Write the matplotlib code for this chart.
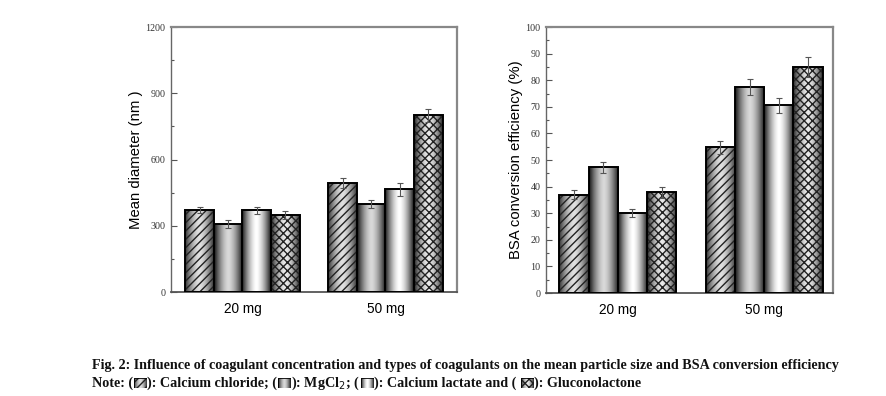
import numpy as np
import matplotlib
matplotlib.use("Agg")
import matplotlib.pyplot as plt
from matplotlib.ticker import MultipleLocator

groups = ["20 mg", "50 mg"]
coagulants = ["Calcium chloride", "MgCl2", "Calcium lactate", "Gluconolactone"]
diam_vals = [[370, 310, 370, 350], [495, 398, 465, 800]]
diam_err = [[14, 18, 16, 18], [22, 18, 28, 28]]
bsa_vals = [[37.0, 47.2, 30.0, 37.8], [54.8, 77.3, 70.6, 84.9]]
bsa_err = [[1.8, 2.2, 1.5, 2.0], [2.4, 3.0, 2.8, 3.8]]
diam_ticks = [0, 300, 600, 900, 1200]
bsa_ticks = list(range(0, 101, 10))

styles = [
    dict(hatch="////", lo=0.2, hi=0.88),
    dict(hatch=None, lo=0.08, hi=0.85),
    dict(hatch=None, lo=0.1, hi=1.0),
    dict(hatch="xxxx", lo=0.15, hi=0.92),
]

def grad_array(lo, hi, n=64):
    x = np.linspace(-1, 1, n)
    prof = 1 - np.abs(x) ** 1.6
    return (lo + (hi - lo) * prof)[None, :]

def draw_bar(ax, x, h, w, st, lw=1.4):
    g = grad_array(st["lo"], st["hi"])
    rect = ax.bar(x, h, w, facecolor="none", edgecolor="none", zorder=2)[0]
    im = ax.imshow(g, cmap="gray", vmin=0, vmax=1, aspect="auto",
                   extent=(x - w / 2, x + w / 2, 0, h), zorder=1,
                   interpolation="bilinear")
    im.set_clip_path(rect)
    if st["hatch"]:
        ax.bar(x, h, w, facecolor="none", edgecolor="#222222", hatch=st["hatch"],
               linewidth=0, zorder=2)
    ax.bar(x, h, w, facecolor="none", edgecolor="black", linewidth=lw, zorder=3)

def panel(ax, vals, errs, ylim, ticks, minor, ylabel, xlim):
    w = 0.2
    for gi in range(len(groups)):
        for ci in range(4):
            x = gi + (ci - 1.5) * w
            draw_bar(ax, x, vals[gi][ci], w, styles[ci])
            ax.errorbar(x, vals[gi][ci], yerr=errs[gi][ci], fmt="none",
                        ecolor="#555555", elinewidth=0.8, capsize=2.5,
                        capthick=0.8, zorder=4)
    ax.set_xlim(*xlim)
    ax.set_ylim(*ylim)
    ax.set_xticks(range(len(groups)))
    ax.set_xticklabels(groups, family="Liberation Sans", fontsize=9.8)
    ax.tick_params(axis="x", length=0, pad=7)
    ax.set_yticks(ticks)
    ax.set_yticklabels([str(t) for t in ticks], family="Liberation Serif",
                       fontsize=7.2, color="#333333")
    ax.yaxis.set_minor_locator(MultipleLocator(minor))
    ax.tick_params(axis="y", which="major", direction="in", length=4,
                   width=0.8, color="#555555", pad=4)
    ax.tick_params(axis="y", which="minor", direction="in", length=2,
                   width=0.8, color="#555555")
    ax.set_ylabel(ylabel, family="Liberation Sans", fontsize=10.7, labelpad=2)
    for s in ["top", "right"]:
        ax.spines[s].set_color("#888888")
        ax.spines[s].set_linewidth(1.6)
    ax.spines["left"].set_color("#666666")
    ax.spines["left"].set_linewidth(1.0)
    ax.spines["bottom"].set_color("#555555")
    ax.spines["bottom"].set_linewidth(1.3)

fig = plt.figure(figsize=(8.86, 3.96), dpi=100)
ax1 = fig.add_axes([0.193, 0.2626, 0.3228, 0.669])
ax2 = fig.add_axes([0.6163, 0.26, 0.3239, 0.6718])
panel(ax1, diam_vals, diam_err, (0, 1200), diam_ticks, 150,
      "Mean diameter (nm )", (-0.5, 1.5))
panel(ax2, bsa_vals, bsa_err, (0, 100), bsa_ticks, 5,
      "BSA conversion efficiency (%)", (-0.49, 1.47))

# caption
cap_font = dict(family="Liberation Serif", fontweight="bold", fontsize=10.15,
                color="#111111")
fig.text(92 / 886, 1 - 366 / 396,
         "Fig. 2: Influence of coagulant concentration and types of coagulants "
         "on the mean particle size and BSA conversion efficiency",
         va="center", ha="left", **cap_font)

fig.canvas.draw()
renderer = fig.canvas.get_renderer()
y_px = 383
x_px = 92.0
pieces = ["Note: (", 0, "): Calcium chloride; (", 1, "): MgCl$_2$; ( ", 2,
          "): Calcium lactate and ( ", 3, "): Gluconolactone"]
for p in pieces:
    if isinstance(p, str):
        t = fig.text(x_px / 886, 1 - y_px / 396, p, va="center", ha="left",
                     **cap_font)
        bb = t.get_window_extent(renderer)
        x_px += bb.width
    else:
        st = styles[p]
        iw, ih = 13, 10
        ax_i = fig.add_axes([(x_px + 0.5) / 886, 1 - (y_px + ih / 2) / 396,
                             iw / 886, ih / 396])
        ax_i.set_axis_off()
        ax_i.set_xlim(-0.5, 0.5)
        ax_i.set_ylim(0, 1)
        draw_bar(ax_i, 0, 1, 1, st, lw=0.6)
        x_px += iw + 1

fig.savefig("out.png", dpi=100)
